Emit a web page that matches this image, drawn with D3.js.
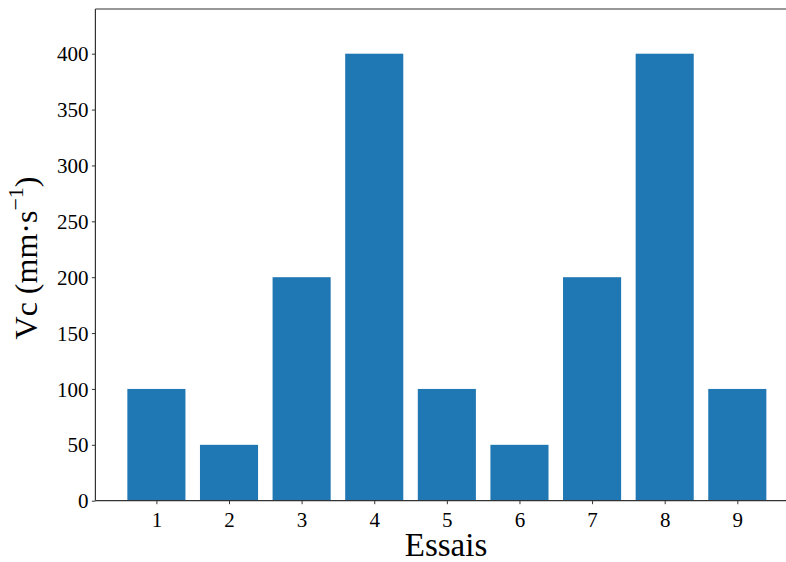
<!DOCTYPE html>
<html><head><meta charset="utf-8">
<script src="https://cdn.jsdelivr.net/npm/d3@7"></script>
<style>
html,body{margin:0;padding:0;background:#fff;}
svg text{font-family:"Liberation Serif","DejaVu Serif",serif;fill:#000;}
</style></head>
<body>
<script>
const categories = [1,2,3,4,5,6,7,8,9];
const values = [100,50,200,400,100,50,200,400,100];
const yTicks = [0,50,100,150,200,250,300,350,400];
const xLabel = "Essais";

(function(){
const W=786,H=562;
const svg=d3.select("body").append("svg").attr("width",W).attr("height",H).style("display","block");
const mLeft=95.4, mTop=9, mBottom=500.7, mRight=798.3;
const x=d3.scaleLinear().domain([0.16,9.84]).range([mLeft,mRight]);
const y=d3.scaleLinear().domain([0,440]).range([mBottom,mTop]);

svg.append("g").selectAll("rect").data(categories).join("rect")
  .attr("x",(d)=>x(d-0.4)).attr("width",(d)=>x(d+0.4)-x(d-0.4))
  .attr("y",(d,i)=>y(values[i])).attr("height",(d,i)=>y(0)-y(values[i]))
  .attr("fill","#1f77b4");

const ya=d3.axisLeft(y).tickValues(yTicks).tickSize(3.5).tickPadding(3.5);
const gy=svg.append("g").attr("transform",`translate(${mLeft},0)`).call(ya);
const xa=d3.axisBottom(x).tickValues(categories).tickSize(3.5).tickPadding(3.5);
const gx=svg.append("g").attr("transform",`translate(0,${mBottom})`).call(xa);
[gx,gy].forEach(g=>{
  g.select(".domain").remove();
  g.selectAll(".tick line").attr("stroke","#000").attr("stroke-width",0.8);
  g.selectAll(".tick text").style("font-size","21px").attr("fill","#000");
});
gx.selectAll(".tick text").attr("dy","0.9em");
gy.selectAll(".tick text").attr("dy","0.34em");

const sp=svg.append("g").attr("stroke","#333").attr("stroke-width",1.2).attr("fill","none");
sp.append("line").attr("x1",mLeft).attr("x2",mLeft).attr("y1",mTop).attr("y2",mBottom);
sp.append("line").attr("x1",mLeft).attr("x2",W).attr("y1",mTop).attr("y2",mTop);
sp.append("line").attr("x1",mLeft).attr("x2",W).attr("y1",mBottom).attr("y2",mBottom);

svg.append("text").attr("x",446).attr("y",556)
  .attr("text-anchor","middle").style("font-size","33px").text(xLabel);

const yl=svg.append("text").attr("transform","translate(37,258) rotate(-90)")
  .attr("text-anchor","middle").style("font-size","32px");
yl.append("tspan").text("Vc (mm·s");
yl.append("tspan").attr("dy","-14").style("font-size","22px").text("−1");
yl.append("tspan").attr("dy","14").text(")");
})();
</script>
</body></html>
